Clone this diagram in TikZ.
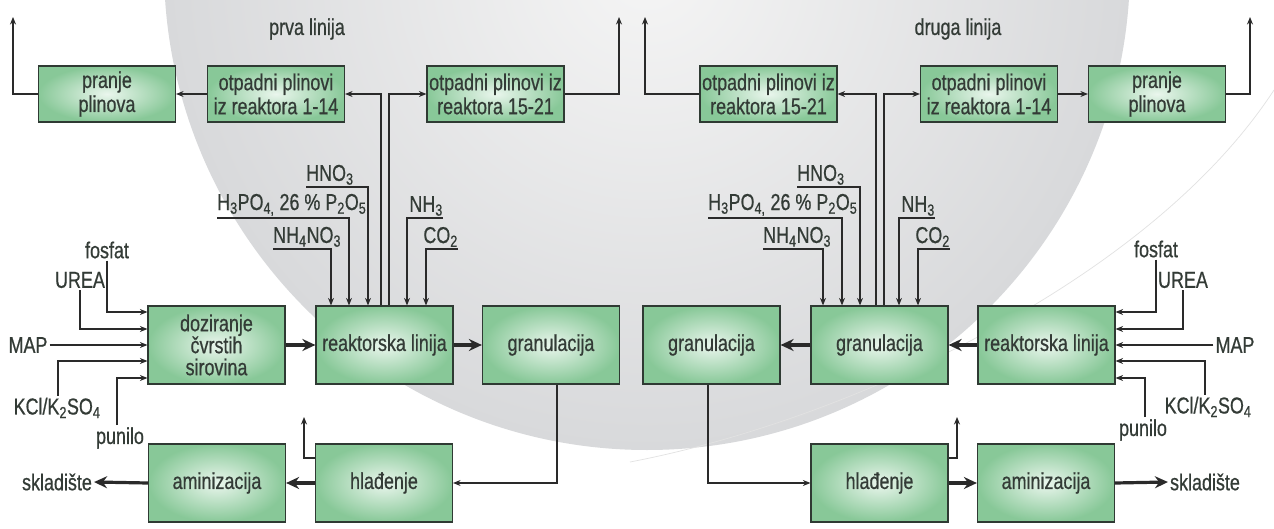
\documentclass[tikz,border=0pt]{standalone}
\usepackage{fontspec}
\setmainfont{Liberation Sans}[FakeStretch=0.78,FakeBold=0.6]
\usetikzlibrary{arrows.meta}
\definecolor{boxin}{HTML}{EAF6ED}
\definecolor{boxout}{HTML}{88C898}
\definecolor{boxline}{HTML}{2F3A33}
\definecolor{txt}{HTML}{333B36}
\definecolor{ln}{HTML}{2A2A2A}
\definecolor{bgin}{HTML}{F5F5F5}
\definecolor{bgout}{HTML}{D8D9DB}
\definecolor{faint}{HTML}{E2E2E2}
\begin{document}
\begin{tikzpicture}[x=1pt,y=-1pt,
  every node/.style={font=\fontsize{23}{24}\selectfont, text=txt},
  box/.style={draw=boxline, line width=1.2pt, shading=radial, inner color=boxin, outer color=boxout, minimum width=137pt, align=center, inner sep=0pt},
  tbox/.style={box, minimum height=56pt},
  mbox/.style={box, minimum height=78pt},
  lbl/.style={inner sep=2pt},
  arr/.style={draw=ln, line width=1.1pt, -{Stealth[length=7.5pt,width=6pt]}},
  bigarr/.style={draw=ln, line width=3.2pt, -{Stealth[length=13pt,width=12pt]}}
]
\useasboundingbox (0,0) rectangle (1274,529);
\fill[white] (0,0) rectangle (1274,529);
\begin{scope}
  \clip (0,0) rectangle (1274,529);
  \shade[inner color=bgin, outer color=bgout] (647,-33) circle (483pt);
  \draw[faint, line width=0.7pt] (630,462) .. controls (850,420) and (1150,280) .. (1274,90);
\end{scope}

% titles
\node (prva) at (307,29) {prva linija};
\node (druga) at (958,29) {druga linija};

% top row
\node[tbox] (pranjeL) at (107,94) {pranje\\plinova};
\node[tbox] (otpAL) at (276,94) {otpadni plinovi\\iz reaktora 1-14};
\node[tbox] (otpBL) at (495.5,94) {otpadni plinovi iz\\reaktora 15-21};
\node[tbox] (otpBR) at (768.5,94) {otpadni plinovi iz\\reaktora 15-21};
\node[tbox] (otpAR) at (989,94) {otpadni plinovi\\iz reaktora 1-14};
\node[tbox] (pranjeR) at (1157,94) {pranje\\plinova};

% middle row
\node[mbox] (doz) at (216.5,345) {doziranje\\[-2pt]čvrstih\\[-2pt]sirovina};
\node[mbox] (reakL) at (384.5,345) {reaktorska linija};
\node[mbox] (granL) at (551,345) {granulacija};
\node[mbox] (granA) at (711.5,345) {granulacija};
\node[mbox] (granB) at (879.5,345) {granulacija};
\node[mbox] (reakR) at (1046.5,345) {reaktorska linija};

% bottom row
\node[mbox] (aminL) at (217,483) {aminizacija};
\node[mbox] (hladL) at (384,483) {hlađenje};
\node[mbox] (hladR) at (879.5,483) {hlađenje};
\node[mbox] (aminR) at (1046,483) {aminizacija};

% free ends
\coordinate (outA) at (13,17);
\coordinate (outB) at (619,17);
\coordinate (outC) at (645,17);
\coordinate (outD) at (1250,17);
\coordinate (outE) at (304,417);
\coordinate (outF) at (957,417);

% top connectors
\draw[arr] (otpAL.west) -- (pranjeL.east);
\draw[arr] (pranjeL.west) -| (outA);
\draw[arr] ([xshift=-3.5pt]reakL.north) |- (otpAL.east);
\draw[arr] ([xshift=4.5pt]reakL.north) |- (otpBL.west);
\draw[arr] (otpBL.east) -| (outB);
\draw[arr] (otpBR.west) -| (outC);
\draw[arr] ([xshift=-3.5pt]granB.north) |- (otpBR.east);
\draw[arr] ([xshift=4.5pt]granB.north) |- (otpAR.west);
\draw[arr] (otpAR.east) -- (pranjeR.west);
\draw[arr] (pranjeR.east) -| (outD);

% inputs to left reactor
\coordinate (hnoLs) at (306,187);
\node[lbl, inner xsep=0pt, anchor=south west] (hnoL) at (hnoLs) {HNO\textsubscript{3}};
\draw[arr] (hnoLs) -| ([xshift=-16.5pt]reakL.north);
\coordinate (phoLs) at (217,218);
\node[lbl, inner xsep=0pt, anchor=south west] (phoL) at (phoLs) {H\textsubscript{3}PO\textsubscript{4,} 26 \% P\textsubscript{2}O\textsubscript{5}};
\draw[arr] (phoLs) -| ([xshift=-35.5pt]reakL.north);
\coordinate (anLs) at (273,249);
\node[lbl, inner xsep=0pt, anchor=south west] (anL) at (anLs) {NH\textsubscript{4}NO\textsubscript{3}};
\draw[arr] (anLs) -| ([xshift=-53.5pt]reakL.north);
\coordinate (nhLs) at (443,218);
\node[lbl, inner xsep=0pt, anchor=south east] (nhL) at (nhLs) {NH\textsubscript{3}};
\draw[arr] (nhLs) -| ([xshift=22.5pt]reakL.north);
\coordinate (coLs) at (458,249);
\node[lbl, inner xsep=0pt, anchor=south east] (coL) at (coLs) {CO\textsubscript{2}};
\draw[arr] (coLs) -| ([xshift=41.5pt]reakL.north);

% inputs to right granulacija
\coordinate (hnoRs) at (797,187);
\node[lbl, inner xsep=0pt, anchor=south west] (hnoR) at (hnoRs) {HNO\textsubscript{3}};
\draw[arr] (hnoRs) -| ([xshift=-19.5pt]granB.north);
\coordinate (phoRs) at (708,218);
\node[lbl, inner xsep=0pt, anchor=south west] (phoR) at (phoRs) {H\textsubscript{3}PO\textsubscript{4,} 26 \% P\textsubscript{2}O\textsubscript{5}};
\draw[arr] (phoRs) -| ([xshift=-37.5pt]granB.north);
\coordinate (anRs) at (763,249);
\node[lbl, inner xsep=0pt, anchor=south west] (anR) at (anRs) {NH\textsubscript{4}NO\textsubscript{3}};
\draw[arr] (anRs) -| ([xshift=-56.5pt]granB.north);
\coordinate (nhRs) at (935,218);
\node[lbl, inner xsep=0pt, anchor=south east] (nhR) at (nhRs) {NH\textsubscript{3}};
\draw[arr] (nhRs) -| ([xshift=19.5pt]granB.north);
\coordinate (coRs) at (950,249);
\node[lbl, inner xsep=0pt, anchor=south east] (coR) at (coRs) {CO\textsubscript{2}};
\draw[arr] (coRs) -| ([xshift=38.5pt]granB.north);

% solid inputs left
\node[lbl] (fosL) at (107,250) {fosfat};
\node[lbl] (ureaL) at (80,280) {UREA};
\node[lbl] (mapL) at (28,345) {MAP};
\node[lbl] (kclL) at (57,408) {KCl/K\textsubscript{2}SO\textsubscript{4}};
\node[lbl] (punL) at (120,438) {punilo};
\draw[arr] (fosL.south) |- ([yshift=33pt]doz.west);
\draw[arr] (ureaL.south) |- ([yshift=16pt]doz.west);
\draw[arr] (mapL.east) -- (doz.west);
\draw[arr] ([xshift=1pt]kclL.north) |- ([yshift=-16pt]doz.west);
\draw[arr] ([xshift=-3pt]punL.north) |- ([yshift=-33pt]doz.west);

% solid inputs right
\node[lbl] (fosR) at (1156,249) {fosfat};
\node[lbl] (ureaR) at (1183,280) {UREA};
\node[lbl] (mapR) at (1235,345) {MAP};
\node[lbl] (kclR) at (1208,407) {KCl/K\textsubscript{2}SO\textsubscript{4}};
\node[lbl] (punR) at (1143,430) {punilo};
\draw[arr] (fosR.south) |- ([yshift=33pt]reakR.east);
\draw[arr] (ureaR.south) |- ([yshift=16pt]reakR.east);
\draw[arr] (mapR.west) -- (reakR.east);
\draw[arr] ([xshift=-3pt]kclR.north) |- ([yshift=-16pt]reakR.east);
\draw[arr] ([xshift=2pt]punR.north) |- ([yshift=-33pt]reakR.east);

% main flow
\draw[bigarr] (doz.east) -- (reakL.west);
\draw[bigarr] (reakL.east) -- (granL.west);
\draw[bigarr] (granB.west) -- (granA.east);
\draw[bigarr] (reakR.west) -- (granB.east);

% bottom flow
\node[lbl] (skladL) at (57,482) {skladište};
\node[lbl] (skladR) at (1205,482) {skladište};
\draw[arr] ([xshift=6pt]granL.south) |- (hladL.east);
\draw[arr] ([yshift=25pt]hladL.west) -| (outE);
\draw[bigarr] (hladL.west) -- (aminL.east);
\draw[bigarr] (aminL.west) -- (skladL.east);
\draw[arr] ([xshift=-3.5pt]granA.south) |- (hladR.west);
\draw[arr] ([yshift=25pt]hladR.east) -| (outF);
\draw[bigarr] (hladR.east) -- (aminR.west);
\draw[bigarr] (aminR.east) -- (skladR.west);
\end{tikzpicture}
\end{document}
